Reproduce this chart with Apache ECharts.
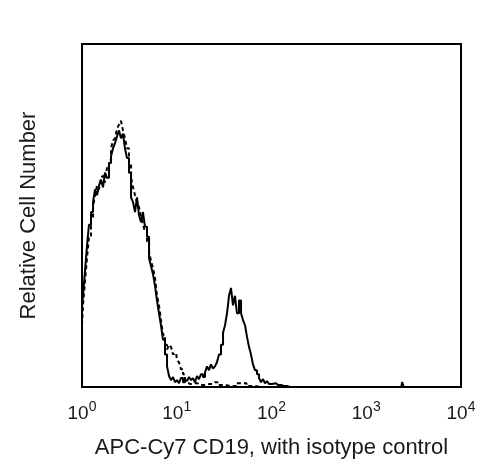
<!DOCTYPE html>
<html>
<head>
  <meta charset="utf-8">
  <title>APC-Cy7 CD19 histogram</title>
  <script src="https://cdn.jsdelivr.net/npm/echarts@6/dist/echarts.min.js"></script>
  <style>
    html, body { margin: 0; padding: 0; background: #fff; }
    #chart { width: 491px; height: 464px; }
  </style>
</head>
<body>
  <div id="chart"></div>
  <script>
    // x = log10 of fluorescence intensity, y = relative cell number (0-100)
    var decadeTicks = [0, 1, 2, 3, 4];

    var solidLog = [0.000, 0.021, 0.042, 0.063, 0.084, 0.106, 0.127, 0.148, 0.169, 0.190,
      0.211, 0.232, 0.253, 0.274, 0.296, 0.317, 0.338, 0.359, 0.380, 0.401,
      0.422, 0.443, 0.464, 0.485, 0.507, 0.528, 0.549, 0.570, 0.591, 0.612,
      0.633, 0.654, 0.675, 0.697, 0.718, 0.739, 0.760, 0.781, 0.802, 0.823,
      0.844, 0.865, 0.887, 0.908, 0.929, 0.950, 0.971, 0.992, 1.013, 1.034,
      1.055, 1.077, 1.098, 1.119, 1.140, 1.161, 1.182, 1.203, 1.224, 1.245,
      1.266, 1.288, 1.309, 1.330, 1.351, 1.372, 1.393, 1.414, 1.435, 1.456,
      1.478, 1.499, 1.520, 1.541, 1.562, 1.583, 1.604, 1.625, 1.646, 1.668,
      1.689, 1.710, 1.731, 1.752, 1.773, 1.794, 1.815, 1.836, 1.858, 1.879,
      1.900, 1.921, 1.942, 1.963, 1.984, 2.026, 2.069, 2.132, 2.195, 3.370,
      3.388, 3.405, 4.000];
    var solidCount = [23.2, 26.6, 33.8, 41.0, 47.3, 51.0, 53.9, 57.6, 55.9, 58.7,
      60.5, 58.2, 62.5, 61.0, 65.3, 67.3, 69.6, 71.1, 73.1, 74.8,
      72.5, 73.9, 69.6, 66.8, 62.5, 55.3, 53.9, 51.0, 55.3, 50.1,
      48.1, 51.0, 46.7, 43.8, 37.5, 35.2, 32.9, 29.5, 25.2, 21.5,
      18.0, 13.8, 9.5, 6.0, 3.2, 2.0, 2.9, 1.4, 2.0, 1.1,
      2.6, 1.4, 2.3, 1.7, 2.9, 2.0, 2.6, 1.4, 3.2, 2.3,
      3.7, 2.9, 4.3, 6.0, 4.9, 6.6, 5.4, 6.0, 7.2, 9.5,
      12.3, 15.8, 18.0, 21.5, 26.6, 28.9, 23.8, 26.6, 21.5, 25.2,
      21.5, 19.5, 18.0, 14.6, 11.7, 9.5, 6.6, 4.9, 3.7, 2.6,
      1.4, 2.3, 1.1, 1.7, 0.9, 1.1, 0.6, 0.3, 0, 0,
      1.4, 0, 0];

    var isotypeLog = [0.000, 0.021, 0.042, 0.063, 0.084, 0.106, 0.127, 0.148, 0.169, 0.190,
      0.211, 0.232, 0.253, 0.274, 0.296, 0.317, 0.338, 0.359, 0.380, 0.401,
      0.422, 0.443, 0.464, 0.485, 0.507, 0.528, 0.549, 0.570, 0.591, 0.612,
      0.633, 0.654, 0.675, 0.697, 0.718, 0.739, 0.760, 0.781, 0.802, 0.823,
      0.844, 0.865, 0.887, 0.908, 0.929, 0.950, 0.971, 0.992, 1.013, 1.034,
      1.055, 1.077, 1.098, 1.119, 1.140, 1.193, 1.245, 1.351, 1.404, 1.456,
      1.562, 1.699, 1.773, 1.879, 4.000];
    var isotypeCount = [18.0, 23.8, 30.9, 37.5, 43.8, 49.0, 52.4, 55.9, 58.7, 57.6,
      61.0, 61.6, 59.6, 63.9, 66.2, 69.6, 71.9, 72.5, 75.3, 76.5,
      77.6, 74.8, 72.5, 69.6, 65.3, 61.0, 58.2, 55.9, 53.9, 52.4,
      49.6, 47.3, 45.3, 42.4, 39.5, 36.7, 34.7, 31.8, 26.6, 23.8,
      19.5, 15.2, 12.3, 10.9, 12.3, 11.7, 9.5, 10.0, 8.0, 7.2,
      5.2, 3.7, 2.3, 1.4, 0.9, 1.1, 0.6, 0.9, 1.4, 0.6,
      0.3, 1.1, 0.3, 0, 0];

    function pairs(xs, ys) {
      return xs.map(function (x, i) { return [x, ys[i]]; });
    }

    var chart = echarts.init(document.getElementById('chart'));
    chart.setOption({
      backgroundColor: '#ffffff',
      animation: false,
      textStyle: { fontFamily: 'Liberation Sans, Arial, sans-serif' },
      grid: {
        left: 82, right: 30, top: 44, bottom: 71,
        show: true, borderColor: '#000', borderWidth: 2
      },
      xAxis: {
        type: 'value',
        min: 0, max: 4, interval: 1,
        name: 'APC-Cy7 CD19, with isotype control',
        nameLocation: 'middle',
        nameGap: 50,
        nameTextStyle: { fontSize: 22, color: '#1a1a1a' },
        axisLine: { show: false },
        axisTick: { show: false },
        splitLine: { show: false },
        axisLabel: {
          margin: 13,
          color: '#1a1a1a',
          formatter: function (v) {
            return decadeTicks.indexOf(v) >= 0 ? '{b|10}{s|' + v + '}' : '';
          },
          rich: {
            b: { fontSize: 19, color: '#1a1a1a', verticalAlign: 'bottom' },
            s: { fontSize: 14, color: '#1a1a1a', padding: [0, 0, 9, 0], verticalAlign: 'bottom' }
          }
        }
      },
      yAxis: {
        type: 'value',
        min: 0, max: 100,
        name: 'Relative Cell Number',
        nameLocation: 'middle',
        nameGap: 42,
        nameTextStyle: { fontSize: 22, color: '#1a1a1a' },
        axisLine: { show: false },
        axisTick: { show: false },
        axisLabel: { show: false },
        splitLine: { show: false }
      },
      series: [
        {
          name: 'CD19',
          type: 'line',
          step: 'middle',
          showSymbol: false,
          data: pairs(solidLog, solidCount),
          lineStyle: { color: '#000', width: 2 }
        },
        {
          name: 'Isotype control',
          type: 'line',
          step: 'middle',
          showSymbol: false,
          data: pairs(isotypeLog, isotypeCount),
          lineStyle: { color: '#000', width: 2, type: [4, 3] }
        }
      ]
    });
  </script>
</body>
</html>
